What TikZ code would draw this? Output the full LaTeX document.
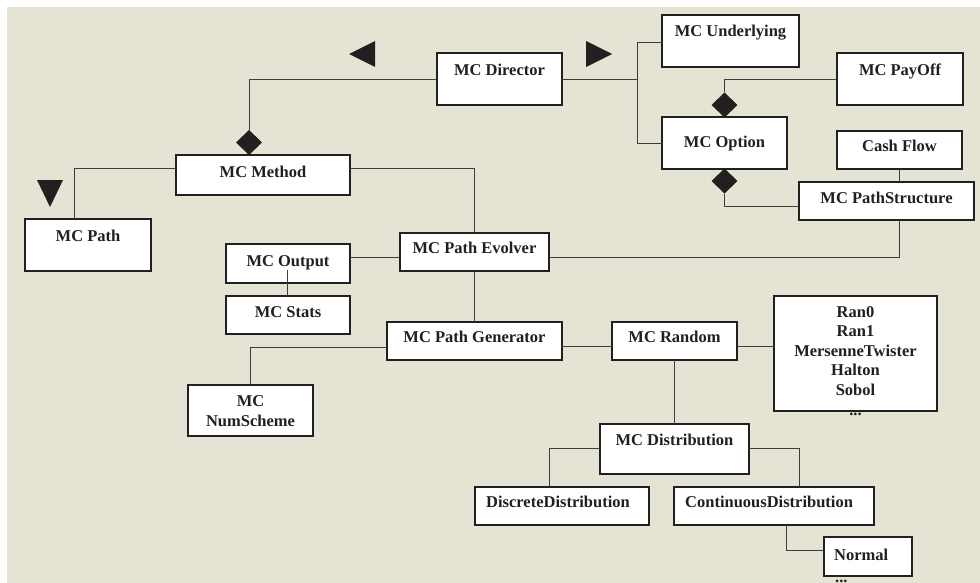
\documentclass[tikz,border=0pt]{standalone}
\usepackage{fontspec}
\setmainfont{Liberation Serif}
\usetikzlibrary{shapes.geometric}
\definecolor{bg}{HTML}{E5E3D3}
\definecolor{ink}{HTML}{231F20}
\definecolor{wire}{HTML}{3E3C3C}
\newcommand\mkbox[5]{\node[boxst,minimum width={(#4-#2)*1pt},minimum height={(#5-#3)*1pt}] (#1) at ({(#2+#4)/2},{(#3+#5)/2}) {};}
\begin{document}
\begin{tikzpicture}[x=1pt,y=-1pt,
 boxst/.style={draw=ink,line width=1.8pt,fill=white,inner sep=0pt,outer sep=0pt},
 lbl/.style={font=\fontsize{16.5}{20}\selectfont\bfseries,text=ink,anchor=base,inner sep=0pt},
 lblw/.style={lbl,anchor=base west},
 conn/.style={draw=wire,line width=0.9pt},
 diam/.style={diamond,fill=ink,inner sep=0pt,outer sep=0pt,minimum width=26pt,minimum height=25pt},
 tri/.style={fill=ink}]
\useasboundingbox (0,0) rectangle (980,583);
\fill[bg] (7,7) rectangle (980,583);

% boxes
\mkbox{director}{437}{53}{562}{105}
\mkbox{underlying}{662}{15}{799}{67}
\mkbox{payoff}{837}{53}{963}{105}
\mkbox{option}{662}{117}{787}{169}
\mkbox{cashflow}{837}{131}{962}{169}
\mkbox{pathstruct}{799}{182}{974}{220}
\mkbox{method}{176}{155}{350}{195}
\mkbox{path}{25}{219}{151}{271}
\mkbox{evolver}{400}{233}{549}{271}
\mkbox{output}{226}{244}{350}{283}
\mkbox{stats}{226}{296}{350}{334}
\mkbox{generator}{387}{322}{562}{360}
\mkbox{random}{612}{322}{737}{360}
\mkbox{numscheme}{188}{385}{313}{436}
\mkbox{rng}{774}{296}{937}{411}
\mkbox{distrib}{600}{424}{749}{474}
\mkbox{discrete}{475}{487}{649}{525}
\mkbox{continuous}{674}{487}{874}{525}
\mkbox{normal}{824}{537}{912}{576}

% diamonds
\node[diam] (dm1) at (249,142.5) {};
\node[diam] (dm2) at (724.5,105) {};
\node[diam] (dm3) at (724.5,181) {};
\coordinate (brk) at (637,79);

% connectors
\draw[conn] (director.west |- 0,79) -| (dm1.north);
\draw[conn] (method.west |- 0,168) -| (path.north -| 74,0);
\draw[conn] (method.east |- 0,168) -| (evolver.north -| 474,0);
\draw[conn] (director.east |- brk) -- (brk);
\draw[conn] (underlying.west |- 0,42) -| (brk);
\draw[conn] (option.west |- 0,143) -| (brk);
\draw[conn] (payoff.west |- 0,79) -| (dm2.north);
\draw[conn] (dm3.south) |- (pathstruct.west |- 0,206);
\draw[conn] (cashflow.south) -- (cashflow.south |- pathstruct.north);
\draw[conn] (pathstruct.south -| cashflow.south) |- (evolver.east |- 0,257);
\draw[conn] (evolver.west |- 0,257) -- (output.east |- 0,257);
\draw[conn] (output.south -| 287,0) ++(0,-13) -- (stats.north -| 287,0);
\draw[conn] (evolver.south) -- (generator.north);
\draw[conn] (generator.west |- 0,347) -| (numscheme.north);
\draw[conn] (generator.east |- 0,346) -- (random.west |- 0,346);
\draw[conn] (random.east |- 0,346) -- (rng.west |- 0,346);
\draw[conn] (random.south) -- (distrib.north);
\draw[conn] (distrib.west |- 0,448) -| (discrete.north -| 549,0);
\draw[conn] (distrib.east |- 0,448) -| (continuous.north -| 799,0);
\draw[conn] (continuous.south -| 786,0) |- (normal.west |- 0,550);

% triangles
\fill[tri] (50,207) -- (37,180) -- (63,180) -- cycle;
\fill[tri] (349,54) -- (375,41) -- (375,67) -- cycle;
\fill[tri] (612,54) -- (586,41) -- (586,67) -- cycle;

% labels
\node[lbl] (tdirector) at (499.5,76) {MC Director};
\node[lbl] (tunderlying) at (730.5,37) {MC Underlying};
\node[lbl] (tpayoff) at (900,76) {MC PayOff};
\node[lbl] (toption) at (724.5,148) {MC Option};
\node[lbl] (tcash) at (899.5,152) {Cash Flow};
\node[lbl] (tpathstruct) at (886.5,203) {MC PathStructure};
\node[lbl] (tmethod) at (263,177) {MC Method};
\node[lbl] (tpath) at (88,241) {MC Path};
\node[lbl] (tevolver) at (474.5,253) {MC Path Evolver};
\node[lbl] (toutput) at (288,266) {MC Output};
\node[lbl] (tstats) at (288,317) {MC Stats};
\node[lbl] (tgenerator) at (474.5,342) {MC Path Generator};
\node[lbl] (trandom) at (674.5,342) {MC Random};
\node[lbl] (tnum1) at (250.5,406) {MC};
\node[lbl] (tnum2) at (250.5,426) {NumScheme};
\node[lbl] (trng1) at (855.5,317) {Ran0};
\node[lbl] (trng2) at (855.5,336.5) {Ran1};
\node[lbl] (trng3) at (855.5,356) {MersenneTwister};
\node[lbl] (trng4) at (855.5,375.5) {Halton};
\node[lbl] (trng5) at (855.5,395) {Sobol};
\node[lbl] (trng6) at (855.5,415) {...};
\node[lbl] (tdistrib) at (674.5,445) {MC Distribution};
\node[lblw] (tdiscrete) at (486,507) {DiscreteDistribution};
\node[lblw] (tcontinuous) at (685,507) {ContinuousDistribution};
\node[lblw] (tnormal) at (834,560) {Normal};
\node[lblw] (tnormaldots) at (835,582) {...};
\end{tikzpicture}
\end{document}
